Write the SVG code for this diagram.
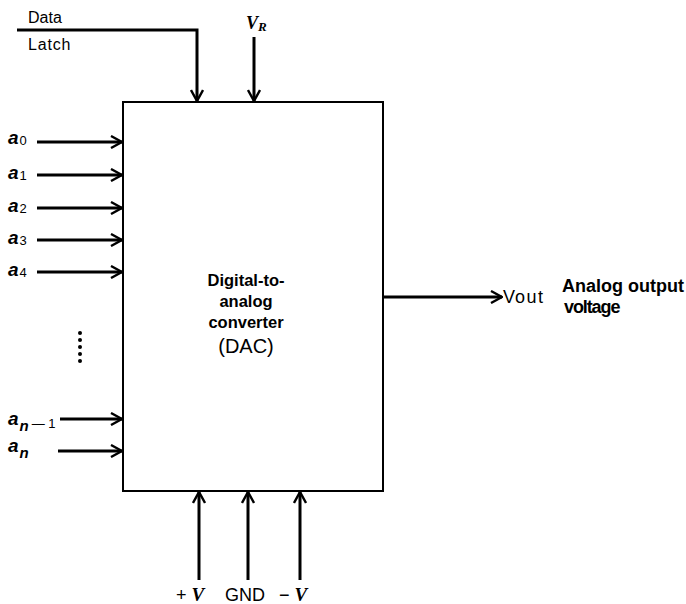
<svg xmlns="http://www.w3.org/2000/svg" width="686" height="604" viewBox="0 0 686 604">
<style>
.w{stroke:#000;stroke-width:3;fill:none}
.lab{font-family:"Liberation Sans",Arial,sans-serif;font-size:16px;fill:#000}
.b{font-weight:bold}
.it{font-family:"Liberation Serif","Times New Roman",serif;font-style:italic;font-weight:bold;font-size:20px;fill:#000}
.ai{font-family:"Liberation Sans",Arial,sans-serif;font-style:italic;font-weight:bold;font-size:19px;fill:#000}
.sub{font-family:"Liberation Sans",Arial,sans-serif;font-size:13px;fill:#000;font-style:normal;font-weight:normal}
</style>
<defs>
<marker id="ah" viewBox="0 0 13 14" refX="12" refY="7" markerWidth="13" markerHeight="14" markerUnits="userSpaceOnUse" orient="auto">
<polyline points="1,1 12,7 1,13" fill="none" stroke="#000" stroke-width="2.4"/>
</marker>
</defs>
<g id="dac">
<rect x="123" y="102" width="260" height="389" fill="#fff" stroke="#000" stroke-width="2"/>
<text class="lab b" style="font-size:16.5px" text-anchor="middle" x="246" y="286">Digital-to-</text>
<text class="lab b" style="font-size:16.5px" text-anchor="middle" x="246" y="307">analog</text>
<text class="lab b" style="font-size:16.5px" text-anchor="middle" x="246" y="328">converter</text>
<text class="lab" style="font-size:20px" text-anchor="middle" x="246" y="353">(DAC)</text>
</g>
<g id="connectors">
<polyline class="w" points="17,30 197,30 197,101" marker-end="url(#ah)"/>
<line class="w" x1="254" y1="37" x2="254" y2="101" marker-end="url(#ah)"/>
<line class="w" x1="37" y1="142" x2="122" y2="142" marker-end="url(#ah)"/>
<line class="w" x1="37" y1="175" x2="122" y2="175" marker-end="url(#ah)"/>
<line class="w" x1="37" y1="208" x2="122" y2="208" marker-end="url(#ah)"/>
<line class="w" x1="37" y1="240" x2="122" y2="240" marker-end="url(#ah)"/>
<line class="w" x1="37" y1="272" x2="122" y2="272" marker-end="url(#ah)"/>
<line class="w" x1="60" y1="419" x2="122" y2="419" marker-end="url(#ah)"/>
<line class="w" x1="58" y1="451" x2="122" y2="451" marker-end="url(#ah)"/>
<line class="w" x1="384" y1="297" x2="502" y2="297" marker-end="url(#ah)"/>
<line class="w" x1="199" y1="580" x2="199" y2="492" marker-end="url(#ah)"/>
<line class="w" x1="248" y1="580" x2="248" y2="492" marker-end="url(#ah)"/>
<line class="w" x1="300" y1="580" x2="300" y2="492" marker-end="url(#ah)"/>
</g>
<g id="labels">
<text class="lab" x="28" y="23">Data</text>
<text class="lab" style="letter-spacing:0.8px" x="28" y="50">Latch</text>
<text class="it" style="font-size:18px" x="246" y="29">V<tspan style="font-size:13px" dy="2">R</tspan></text>
<text class="ai" x="8" y="144">a<tspan class="sub" dx="1" dy="1">0</tspan></text>
<text class="ai" x="8" y="179">a<tspan class="sub" dx="1" dy="1">1</tspan></text>
<text class="ai" x="8" y="212">a<tspan class="sub" dx="1" dy="1">2</tspan></text>
<text class="ai" x="8" y="244">a<tspan class="sub" dx="1" dy="1">3</tspan></text>
<text class="ai" x="8" y="276">a<tspan class="sub" dx="1" dy="1">4</tspan></text>
<text class="ai" x="8" y="425">a<tspan style="font-size:15px" dx="1" dy="6">n</tspan><tspan class="sub" dx="3" dy="-3">— 1</tspan></text>
<text class="ai" x="8" y="452">a<tspan style="font-size:15px" dx="1" dy="6">n</tspan></text>
<text class="lab" style="font-size:18px" x="503" y="303">V<tspan style="letter-spacing:1.5px">out</tspan></text>
<text class="lab b" style="font-size:18px" x="562" y="292">Analog output</text>
<text class="lab b" style="font-size:18px;letter-spacing:-1.1px" x="564" y="313">voltage</text>
<text class="lab" style="font-size:18px" x="176" y="601">+ <tspan class="it" style="font-size:19px">V</tspan></text>
<text class="lab" style="font-size:18px" x="225" y="601">GND</text>
<text class="lab" style="font-size:18px" x="279" y="601">− <tspan class="it" style="font-size:19px">V</tspan></text>
</g>
<g id="dots" fill="#000">
<circle cx="80" cy="333" r="2"/>
<circle cx="80" cy="340" r="2"/>
<circle cx="80" cy="347" r="2"/>
<circle cx="80" cy="354" r="2"/>
<circle cx="80" cy="361" r="2"/>
</g>
</svg>
